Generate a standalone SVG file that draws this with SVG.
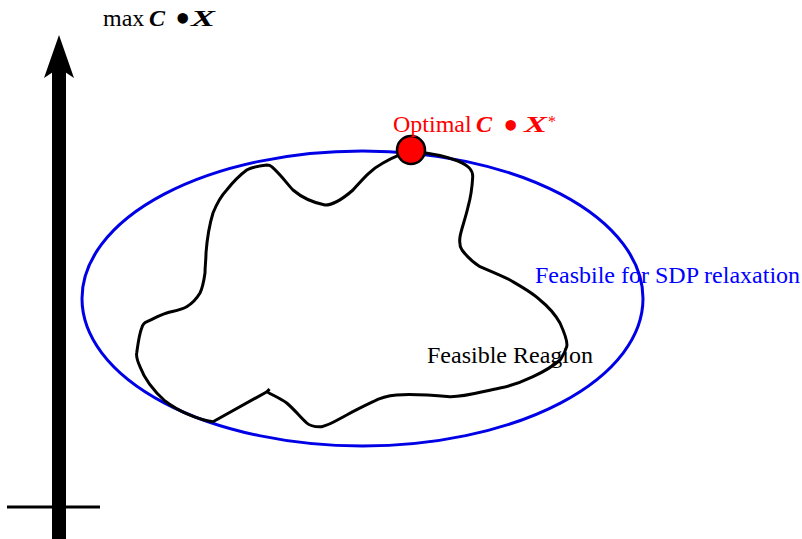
<svg xmlns="http://www.w3.org/2000/svg" width="802" height="539" viewBox="0 0 802 539">
<style>
text{font-family:"Liberation Serif","Times New Roman",serif;font-size:24px}
.bi{font-weight:bold;font-style:italic}
.bul{font-size:44px}
</style>
<rect width="802" height="539" fill="#fff"/>
<g id="axis">
<rect x="52" y="66" width="14" height="473" fill="#000"/>
<polygon points="59,35 74,78 59,68 44,78" fill="#000"/>
<line x1="7" y1="507" x2="100" y2="507" stroke="#000" stroke-width="3"/>
<text x="103" y="26">max <tspan class="bi" x="149">C</tspan><tspan class="bul" x="175" y="33">•</tspan><tspan class="bi" x="191" y="26" textLength="24" lengthAdjust="spacingAndGlyphs">X</tspan></text>
</g>
<g id="relaxation">
<ellipse cx="362.5" cy="298.5" rx="280.5" ry="147.5" fill="none" stroke="#0000e6" stroke-width="3"/>
<text x="535" y="283" fill="#0000ff">Feasbile for SDP relaxation</text>
</g>
<g id="feasible">
<path d="M266.7,165 C270,165 271,166 271.7,166.7 C282,176 288,185 293,190 C300,196 310,202 325,205 C333,205 345,197 353,190 C362,180 370,170 383,163 C393,157 402,153 413,151.7 C430,153 448,157 458,161 C470,166 473,171 472.7,177 C472,190 470,200 468,207 C465,220 461,230 460,237 C459,244 460,247 462,250 C468,258 474,263 480,266.7 C490,271 500,275 510,280 C522,287 533,293 540,300 C550,308 556,316 560,323 C565,334 568,342 566.7,346.7 C565,353 562,357 560,360 C552,367 543,372 533,376.7 C520,383 510,386 500,388 C480,392 465,397 450,396.7 C430,395 410,394 396.7,395 C385,396 378,399 373,401.7 C362,407 354,411 346.7,415 C337,420 330,425 321.7,426.7 C315,427 310,426 306.7,423 C300,417 295,410 286.7,403 C280,398 272,395 267,391.7 L213,421.7 C198,420 178,411 165,401 C155,392 145,380 140,366.7 C137,360 136,357 136.7,353 C138,344 139,335 141.7,328 C143,324 145,322 147,321.7 C155,318 160,315 166.7,313 C174,311 181,310 186.7,306.7 C193,303 197,298 200,293 C203,287 204,280 205,273 C205,266 206,260 206,253 C207,240 209,226 213,213 C217,203 222,195 226.7,190 C233,182 240,175 246.7,170 C252,167 259,166 266.7,165 Z" fill="none" stroke="#000" stroke-width="3" stroke-linejoin="round"/>
<line x1="267" y1="391.7" x2="269.5" y2="389" stroke="#000" stroke-width="3"/>
<text x="427" y="363" fill="#000">Feasible Reagion</text>
</g>
<g id="optimum">
<circle cx="411" cy="150" r="14" fill="#ff0000" stroke="#000" stroke-width="2.5"/>
<text x="393" y="132" fill="#ff0000">Optimal <tspan class="bi" x="476">C</tspan><tspan class="bul" x="503" y="140">•</tspan><tspan class="bi" x="524" y="132" textLength="23" lengthAdjust="spacingAndGlyphs">X</tspan><tspan font-size="16" x="548" y="127">*</tspan></text>
</g>
</svg>
